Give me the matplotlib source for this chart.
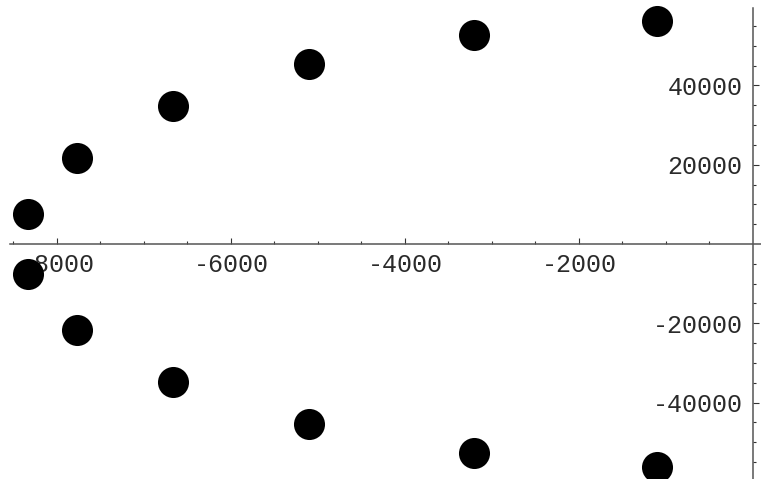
import numpy as np
import matplotlib.pyplot as plt

# data
xs = [-8330, -7770, -6667, -5103, -3207, -1103]
ys_top = [7560, 21800, 34800, 45300, 52700, 56300]
ys_bot = [-7560, -21800, -34800, -45300, -52700, -56300]

x_major = [-8000, -6000, -4000, -2000]
y_major = [-40000, -20000, 20000, 40000]

fig = plt.figure(figsize=(7.61, 4.79), dpi=100)
ax = fig.add_axes([0, 0, 1, 1])

ax.scatter(xs + xs, ys_top + ys_bot, s=500, color='black', zorder=5, linewidths=0)

ax.set_xlim(-8655, 92)
ax.set_ylim(-59270, 61540)

# axes through the origin, Mathematica style
ax.spines['left'].set_position(('data', 0))
ax.spines['bottom'].set_position(('data', 0))
ax.spines['right'].set_visible(False)
ax.spines['top'].set_visible(False)
ax.spines['bottom'].set_bounds(-8540, 92)
ax.spines['left'].set_bounds(-59270, 59520)
for s in ['left', 'bottom']:
    ax.spines[s].set_color('#555555')
    ax.spines[s].set_linewidth(1.1)

ax.set_xticks(x_major)
ax.set_xticklabels([str(v) for v in x_major])
ax.set_xticks([v for v in range(-8500, 0, 500) if v not in x_major], minor=True)
ax.set_yticks(y_major)
ax.set_yticklabels([str(v) for v in y_major])
ax.set_yticks([v for v in range(-55000, 60000, 5000) if v not in y_major and v != 0], minor=True)

ax.tick_params(which='both', direction='in', color='#333333', width=0.8)
ax.tick_params(which='major', length=4.5)
ax.tick_params(which='minor', length=2.5)
ax.tick_params(axis='x', which='major', pad=6.5, labelsize=18)
ax.tick_params(axis='y', which='major', pad=7.5, labelsize=18)
for lab in ax.get_xticklabels() + ax.get_yticklabels():
    lab.set_family('Liberation Mono')
    lab.set_color('#2a2a2a')

ax.xaxis.set_zorder(1)
ax.yaxis.set_zorder(1)

fig.savefig('out.png', dpi=100)
